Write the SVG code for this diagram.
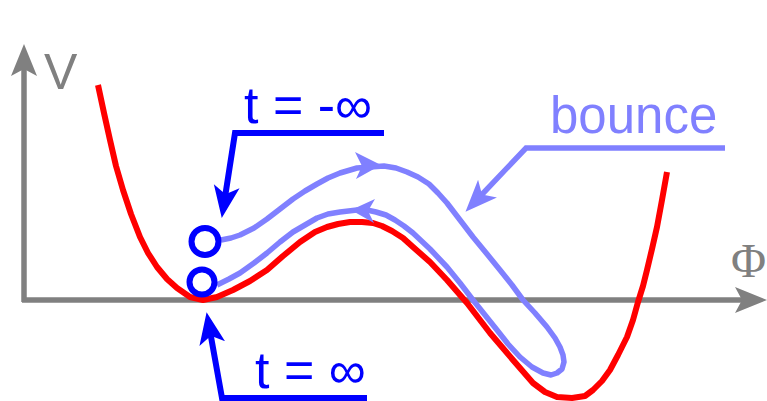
<svg xmlns="http://www.w3.org/2000/svg" width="767" height="401" viewBox="0 0 767 401">
<style>
.axis{stroke:#808080;stroke-width:5.5;fill:none}
.red{stroke:#ff0000;stroke-width:6;fill:none;stroke-linejoin:round;stroke-linecap:butt}
.lb{stroke:#8080ff;stroke-width:5.5;fill:none;stroke-linejoin:round;stroke-linecap:butt}
.bl{stroke:#0000ff;stroke-width:6;fill:none}
.lbl{font-family:"Liberation Sans",Arial,sans-serif}
</style>
<defs>
<marker id="ag" markerUnits="userSpaceOnUse" viewBox="-24 -14 36 28" markerWidth="36" markerHeight="28" refX="0" refY="0" orient="auto">
<path d="M10,0 L-22,-13 L-15,0 L-22,13 Z" fill="#808080"/>
</marker>
<marker id="ab" markerUnits="userSpaceOnUse" viewBox="-24 -14 36 28" markerWidth="36" markerHeight="28" refX="0" refY="0" orient="auto">
<path d="M8,0 L-24,-13 L-16,0 L-24,13 Z" fill="#0000ff"/>
</marker>
<marker id="alb" markerUnits="userSpaceOnUse" viewBox="-24 -14 36 28" markerWidth="36" markerHeight="28" refX="0" refY="0" orient="auto">
<path d="M8,0 L-24,-13 L-16,0 L-24,13 Z" fill="#8080ff"/>
</marker>
</defs>
<g id="axes">
<line class="axis" x1="24" y1="302" x2="24" y2="54" marker-end="url(#ag)"/>
<line class="axis" x1="22" y1="300" x2="757" y2="300" marker-end="url(#ag)"/>
<text class="lbl" x="44" y="89" font-size="50" fill="#808080">V</text>
<text x="731" y="277" font-size="48" fill="#808080" font-family="'Liberation Serif','Times New Roman',serif">Φ</text>
</g>
<g id="potential">
<polyline class="red" points="98,85 104,113 110,140 116,166 123,190 131,214 140,237 148,253 157,267 167,279 177,288 190,297 203,300 217,297 233,290 250,281 267,270 283,256 300,242 315,232 327,227 338,224 350,222 362,222 373,223 382,226 392,231 403,238 413,247 430,262 447,280 467,303 490,333 513,360 533,383 545,392 557,397 572,398 585,396 593,390 602,381 610,370 618,355 627,337 633,320 638,302 643,286 647,270 652,249 657,227 662,200 667,172"/>
</g>
<g id="trajectory">
<polyline class="lb" points="217,285 229,279 240,273 254,263 267,253 280,242 293,232 305,225 317,218 328,214 340,212 357,210 367,210 376,212 386,215 395,220 404,226 413,233 430,249 447,267 460,283 473,300 485,315 497,330 508,344 520,357 532,367 543,373 551,375 557,373 562,369 564,362 563,355 560,347 555,338 547,327 535,313 523,300 512,285 500,270 487,254 473,237 460,220 447,203 438,193 429,184 418,177 407,172 396,168 384,166 370,167 357,168 340,173 328,178 317,184 305,191 293,199 280,209 267,219 254,228 240,235 231,238 221,240"/>
<path d="M381,165 L355,152 L362,166 L356,179 Z" fill="#8080ff"/>
<path d="M351,210 L375,199 L368,211 L374,223 Z" fill="#8080ff"/>
</g>
<g id="start">
<circle class="bl" cx="205" cy="241.5" r="13.5"/>
</g>
<g id="end">
<circle class="bl" cx="202" cy="282" r="12.5"/>
</g>
<g id="connectors">
<polyline class="bl" points="384,133 235,133 223,210" marker-end="url(#ab)"/>
<polyline class="bl" points="367,398 222,398 208,320" marker-end="url(#ab)"/>
<polyline class="lb" style="stroke-linejoin:miter" points="725,148 526,148 471,206" marker-end="url(#alb)"/>
</g>
<g id="labels">
<text class="lbl" x="244" y="123" font-size="52" fill="#0000ff">t = -∞</text>
<text class="lbl" x="255" y="388" font-size="52" fill="#0000ff">t = ∞</text>
<text class="lbl" x="550" y="133" font-size="51" fill="#8080ff">bounce</text>
</g>
</svg>
